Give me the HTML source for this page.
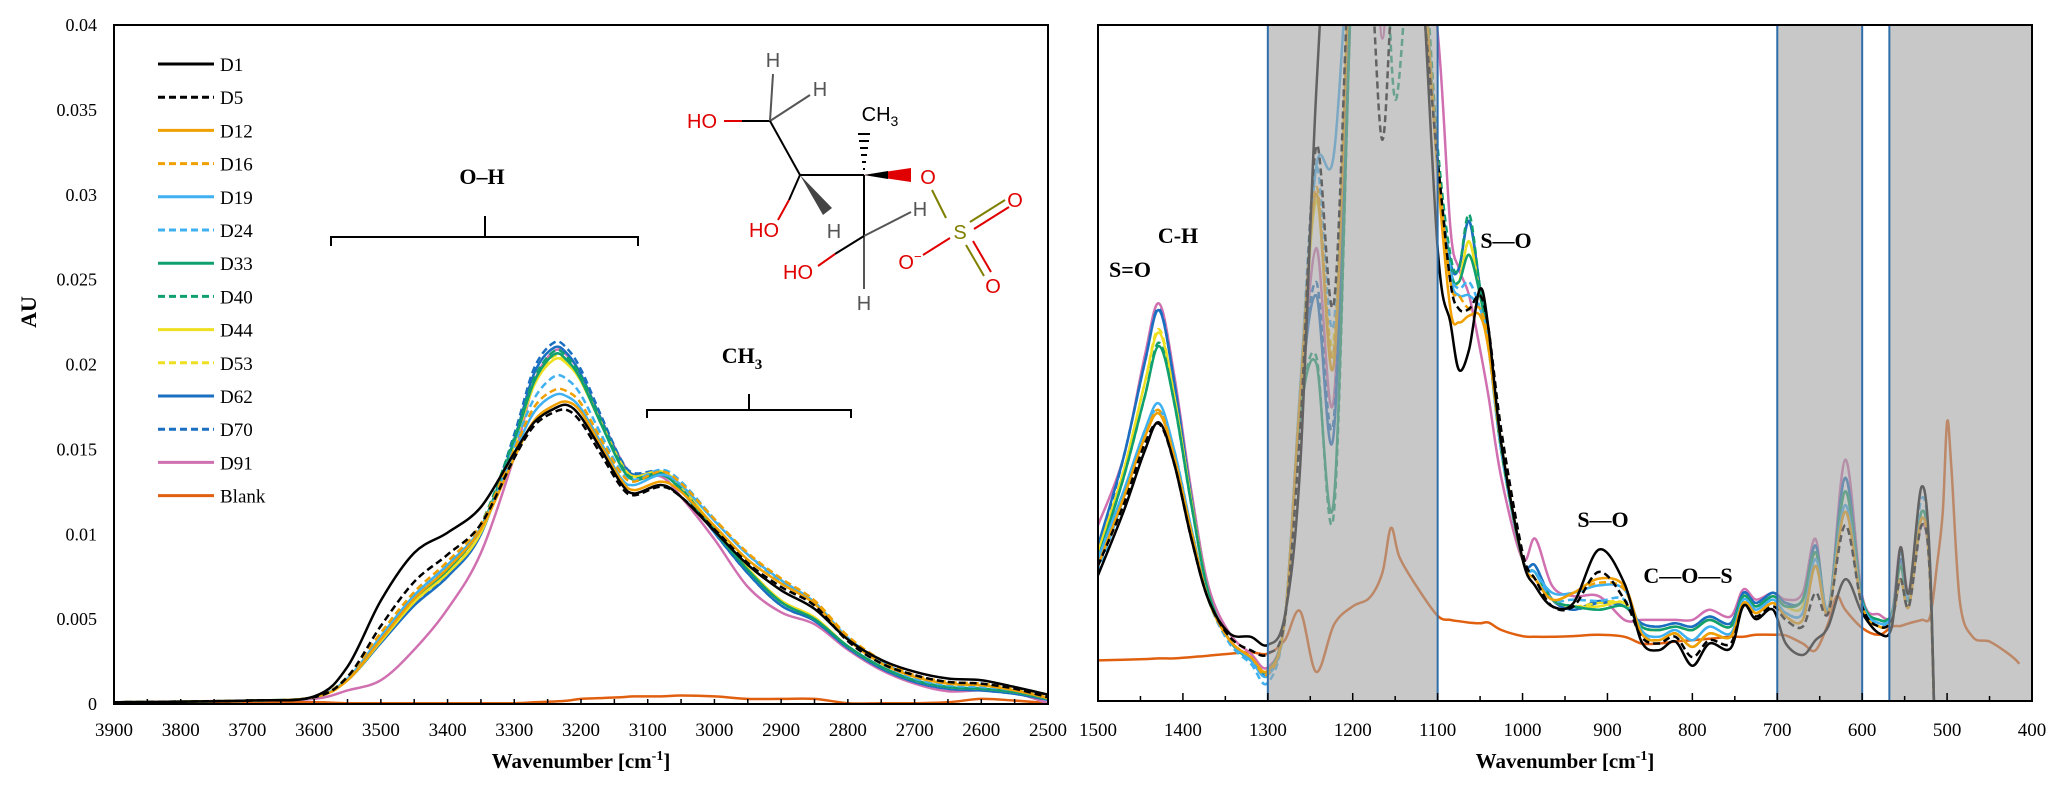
<!DOCTYPE html>
<html><head><meta charset="utf-8"><style>
html,body{margin:0;padding:0;background:#fff;}
svg{display:block;}
text{font-family:"Liberation Serif",serif;}
.mol text{font-family:"Liberation Sans",sans-serif;}
</style></head><body>
<svg id="chart" width="2067" height="800" viewBox="0 0 2067 800" xmlns="http://www.w3.org/2000/svg">
<defs>
<clipPath id="clipL"><rect x="114" y="25" width="934" height="679"/></clipPath>
<clipPath id="clipR"><rect x="1098" y="25" width="934" height="676"/></clipPath>
</defs>
<g id="left-panel"></g>
<g id="right-panel"></g>
<g>
<text x="482" y="184" font-size="22" font-weight="bold" text-anchor="middle">O–H</text>
<path d="M331,246 L331,237 L638,237 L638,246 M485,237 L485,216" fill="none" stroke="#000" stroke-width="2"/>
</g>
<g>
<text x="742" y="363" font-size="22" font-weight="bold" text-anchor="middle">CH<tspan font-size="15" dy="6">3</tspan></text>
<path d="M647,418 L647,410 L851,410 L851,418 M749,410 L749,394" fill="none" stroke="#000" stroke-width="2"/>
</g>
<g class="mol">
<line x1="724" y1="121" x2="742" y2="121" stroke="#e00000" stroke-width="2"/>
<line x1="742" y1="121" x2="770" y2="121" stroke="#000" stroke-width="2"/>
<line x1="770" y1="121" x2="773" y2="74" stroke="#555" stroke-width="2"/>
<line x1="770" y1="121" x2="810" y2="95" stroke="#555" stroke-width="2"/>
<line x1="770" y1="121" x2="800" y2="175" stroke="#000" stroke-width="2"/>
<line x1="800" y1="175" x2="864" y2="175" stroke="#000" stroke-width="2"/>
<line x1="800" y1="175" x2="789" y2="200" stroke="#000" stroke-width="2"/>
<line x1="789" y1="200" x2="778" y2="220" stroke="#e00000" stroke-width="2"/>
<polygon points="800,175 823,215 832,208" fill="#444"/>
<g stroke="#000" stroke-width="2">
<line x1="858" y1="134" x2="870" y2="134"/><line x1="859" y1="141" x2="869" y2="141"/><line x1="860" y1="148" x2="868" y2="148"/><line x1="861" y1="155" x2="867" y2="155"/><line x1="862" y1="162" x2="866" y2="162"/><line x1="863" y1="169" x2="865" y2="169"/>
</g>
<polygon points="864,175 911,168 911,182" fill="#e00000"/>
<polygon points="864,175 888,171 888,179" fill="#000"/>
<line x1="864" y1="175" x2="864" y2="236" stroke="#000" stroke-width="2"/>
<line x1="864" y1="236" x2="864" y2="289" stroke="#555" stroke-width="2"/>
<line x1="864" y1="236" x2="911" y2="212" stroke="#555" stroke-width="2"/>
<line x1="864" y1="236" x2="835" y2="254" stroke="#000" stroke-width="2"/>
<line x1="835" y1="254" x2="818" y2="266" stroke="#e00000" stroke-width="2"/>
<line x1="932" y1="190" x2="946" y2="218" stroke="#808000" stroke-width="2"/>
<line x1="923" y1="255" x2="950" y2="238" stroke="#e00000" stroke-width="2"/>
<line x1="970" y1="222" x2="1005" y2="200" stroke="#808000" stroke-width="2"/>
<line x1="974" y1="229" x2="1009" y2="207" stroke="#e00000" stroke-width="2"/>
<line x1="966" y1="245" x2="984" y2="276" stroke="#808000" stroke-width="2"/>
<line x1="973" y1="241" x2="991" y2="272" stroke="#e00000" stroke-width="2"/>
<text x="773" y="67" font-size="20" fill="#555" text-anchor="middle">H</text>
<text x="820" y="96" font-size="20" fill="#555" text-anchor="middle">H</text>
<text x="702" y="128" font-size="20" fill="#e00000" text-anchor="middle">HO</text>
<text x="880" y="121" font-size="20" fill="#000" text-anchor="middle">CH<tspan font-size="14" dy="5">3</tspan></text>
<text x="928" y="184" font-size="20" fill="#e00000" text-anchor="middle">O</text>
<text x="764" y="237" font-size="20" fill="#e00000" text-anchor="middle">HO</text>
<text x="834" y="238" font-size="20" fill="#555" text-anchor="middle">H</text>
<text x="920" y="216" font-size="20" fill="#555" text-anchor="middle">H</text>
<text x="798" y="279" font-size="20" fill="#e00000" text-anchor="middle">HO</text>
<text x="864" y="310" font-size="20" fill="#555" text-anchor="middle">H</text>
<text x="960" y="239" font-size="20" fill="#808000" text-anchor="middle">S</text>
<text x="910" y="269" font-size="20" fill="#e00000" text-anchor="middle">O<tspan font-size="13" dy="-8">−</tspan></text>
<text x="1015" y="207" font-size="20" fill="#e00000" text-anchor="middle">O</text>
<text x="993" y="293" font-size="20" fill="#e00000" text-anchor="middle">O</text>
</g>
<g>
<text x="1130" y="277" text-anchor="middle" font-weight="bold" font-size="22">S=O</text>
<text x="1178" y="243" text-anchor="middle" font-weight="bold" font-size="22">C-H</text>
<text x="1506" y="248" text-anchor="middle" font-weight="bold" font-size="22">S—O</text>
<text x="1603" y="527" text-anchor="middle" font-weight="bold" font-size="22">S—O</text>
<text x="1688" y="583" text-anchor="middle" font-weight="bold" font-size="22">C—O—S</text>
</g>
</svg>
<script>
const seriesNames = ["D1","D5","D12","D16","D19","D24","D33","D40","D44","D53","D62","D70","D91","Blank"];
const seriesColors = ["#000000","#000000","#f0a000","#f0a000","#3fb0f0","#3fb0f0","#10a070","#10a070","#eee020","#eee020","#1a6fc0","#1a6fc0","#d070b0","#e06010"];
const seriesDashed = [false,true,false,true,false,true,false,true,false,true,false,true,false,false];

const leftTicksX = [3900,3800,3700,3600,3500,3400,3300,3200,3100,3000,2900,2800,2700,2600,2500];
const leftTicksY = [0,5,10,15,20,25,30,35,40];
const leftTickLabelsY = ["0","0.005","0.01","0.015","0.02","0.025","0.03","0.035","0.04"];
const rightTicksX = [1500,1400,1300,1200,1100,1000,900,800,700,600,500,400];
const shadedRanges = [[1300,1100],[700,600],[568,400]];

const wnLeft = [3900,3700,3600,3550,3500,3450,3400,3350,3300,3270,3240,3220,3200,3170,3140,3120,3080,3050,3000,2950,2900,2850,2800,2750,2700,2650,2600,2550,2500];
const d1L  = [0.1,0.2,0.45,2.2,6.1,8.9,10.1,11.6,14.8,16.6,17.4,17.6,16.9,15.0,13.0,12.4,12.9,12.2,10.2,8.2,6.7,5.6,3.8,2.6,1.9,1.5,1.4,1.0,0.55];
const d5L  = [0.1,0.2,0.4,1.6,4.6,7.2,8.8,10.6,14.5,16.4,17.2,17.3,16.6,14.7,12.8,12.3,12.8,12.2,10.3,8.3,6.9,5.8,3.7,2.4,1.7,1.3,1.2,0.9,0.4];
const d12L = [0.1,0.2,0.4,1.4,3.8,6.2,8.0,10.3,14.5,16.7,17.6,17.8,17.2,15.2,13.2,12.6,13.1,12.5,10.5,8.5,7.1,5.9,3.8,2.4,1.6,1.2,1.1,0.8,0.35];
const d16L = [0.1,0.2,0.4,1.6,4.2,6.6,8.4,10.6,15.0,17.5,18.5,18.4,17.7,15.6,13.6,13.1,13.7,13.0,10.9,8.9,7.4,6.1,4.0,2.6,1.7,1.3,1.2,0.9,0.4];
const d19L = [0.1,0.2,0.4,1.5,4.0,6.4,8.2,10.4,14.8,17.2,18.2,18.1,17.4,15.4,13.3,12.9,13.5,12.9,10.8,8.8,7.3,6.0,3.9,2.5,1.6,1.2,1.1,0.8,0.35];
const d24L = [0.1,0.2,0.4,1.5,4.0,6.3,8.1,10.3,15.2,18.0,19.3,19.1,18.2,15.9,13.7,13.2,13.8,13.1,10.9,8.8,7.2,5.9,3.8,2.4,1.5,1.1,1.0,0.8,0.35];
const d33L = [0.1,0.2,0.4,1.5,3.9,6.2,7.9,10.4,15.5,19.0,20.6,20.2,19.1,16.5,14.0,13.2,13.5,12.6,10.2,7.9,6.0,5.0,3.4,2.2,1.4,1.0,0.9,0.7,0.3];
const d40L = [0.1,0.2,0.4,1.6,4.1,6.4,8.2,10.6,15.7,19.2,20.8,20.4,19.3,16.7,14.1,13.3,13.6,12.7,10.3,7.9,6.0,5.0,3.4,2.2,1.4,1.0,0.9,0.7,0.3];
const d44L = [0.1,0.2,0.4,1.4,3.7,6.0,7.7,10.1,15.3,18.8,20.3,20.0,19.0,16.5,14.1,13.4,13.7,12.8,10.4,8.0,6.1,5.1,3.4,2.2,1.4,1.0,0.9,0.7,0.3];
const d53L = [0.1,0.2,0.4,1.4,3.8,6.1,7.8,10.2,15.4,19.0,20.5,20.1,19.1,16.6,14.2,13.4,13.7,12.8,10.4,8.0,6.1,5.1,3.4,2.2,1.4,1.0,0.9,0.7,0.3];
const d62L = [0.1,0.2,0.4,1.4,3.6,5.8,7.5,10.0,15.6,19.5,21.0,20.6,19.4,16.8,14.3,13.5,13.6,12.6,10.1,7.7,5.8,4.9,3.3,2.1,1.3,0.9,0.8,0.6,0.25];
const d70L = [0.1,0.2,0.4,1.5,3.7,5.9,7.6,10.2,15.9,19.8,21.3,20.9,19.7,17.0,14.4,13.6,13.7,12.7,10.1,7.7,5.8,4.9,3.3,2.1,1.3,0.9,0.8,0.6,0.25];
const d91L = [0.1,0.2,0.3,0.8,1.4,3.2,5.6,8.9,14.6,19.0,20.8,20.5,19.4,16.8,14.4,13.4,13.4,12.2,9.7,6.9,5.4,4.7,3.2,2.0,1.2,0.75,0.8,0.65,0.05];
const blankL = [0.1,0.1,0.1,0.05,0.05,0.05,0.05,0.05,0.05,0.1,0.15,0.2,0.3,0.35,0.4,0.45,0.45,0.5,0.45,0.3,0.3,0.3,0.05,0.05,0.05,0.1,0.3,0.2,0.05];
const leftSeries = [d1L,d5L,d12L,d16L,d19L,d24L,d33L,d40L,d44L,d53L,d62L,d70L,d91L,blankL];

const wnRight = [1500,1470,1445,1428,1410,1390,1370,1345,1320,1300,1280,1262,1243,1222,1200,1180,1165,1150,1125,1100,1085,1075,1063,1050,1040,1025,1000,985,965,940,910,880,860,840,820,800,780,755,740,725,705,690,670,655,640,620,600,580,565,555,545,530,520,512];
const d1R  = [18.6,28,37,41.2,35,24,15,10,9.5,8.3,12.6,34.5,90,130,130,130,130,130,120,67,56,49,52,61,55,38,21,17,14,14.5,22.4,17.4,8.8,7.5,8.8,5.2,8.5,7.8,14.1,12.1,13.5,8.5,6.8,9,11,18,13,10,11,22.7,16,31.7,20,-20];
const d5R  = [20,29,38,41,35,24,15,9.5,7.5,7,12,40,82,59,120,110,83,110,110,80,62,58,58,60,55,40,22,18,14,14,19.1,15,9.5,8.5,9.5,6.5,9,8.5,14,12.5,14,12,11,16,13,26,14,11,12,18,14,26,18,-20];
const d12R = [20,30,39,42.5,36,25,15,9,6.5,4.5,12,45,75,50,120,130,130,130,120,78,58,56,57,57,52,38,21,18,15,16,18.1,17,10,9,10,8,10,9.5,14.5,13,14.5,12.5,12,20,13,28,14,11,12,18,14,27,18,-20];
const d16R = [20,30,39,43,36,25,15,9,6.5,4,12,45,76,52,120,130,130,130,120,80,62,60,58,58,53,38,21,18,15,16,17.5,16.5,10,9,10,8,10,9.5,14.5,13,14.5,12.5,12,20,13,28,14,11,12,18,14,27,18,-20];
const d19R = [21,31,40,44,37,25.5,15,9,6,3.8,12,46,79,81,120,130,130,130,120,80,63,60,60,58,53,38,21,19,16,16,17.1,16.5,10.5,9.5,10.5,9,11,10,15,13.5,15,13,13,21,13.5,29,14.5,11.5,12.5,18,14,27,18,-20];
const d24R = [19,30,40,43,37,25.5,15,8.5,5.5,2.7,12,46,79,56,120,130,130,130,120,80,64,61,62,58,52,37,21,19,15,15,14.8,15,10,9,10,8,10,9.5,14.5,13,14.5,13,13,21,13.5,29,14.5,11.5,12.5,22,15,30,20,-20];
const d33R = [21,33,45,52.5,44,29,16,9,6,4.5,12,42,50,30,110,130,130,130,120,80,64,62,66,60,53,37,21,19,15,14,13.5,14,11,10.5,11,10.5,12,11,15.5,14,15.5,14,15,22,13.5,31,15,12,13,20,15,28,19,-20];
const d40R = [21,33,45,53,44,29,16,9,6,4.5,12,42,51,28,110,130,130,89,120,82,66,64,72,61,53,37,21,19,15,14,13.5,14,11,10.5,11,10.5,12,11,15.5,14,15.5,14,15,22,13.5,31,15,12,13,20,15,28,19,-20];
const d44R = [22,34,47,54.5,45,29.5,16,9,6,4.5,12,44,74,52,120,130,130,130,120,80,64,62,68,60,53,37,21,19,15,14,14,14.5,11,10.5,11,10.5,12,11,15.5,14,15.5,14,14,22,13,31,15,12,13,20,15,28,19,-20];
const d53R = [22,34,47,55,45,29.5,16,9,6,4.5,12,44,74,54,120,130,130,130,120,80,64,62,68,60,53,37,21,19,15,14,14.5,14.5,11,10.5,11,10.5,12,11,15.5,14,15.5,14,14,22,13,31,15,12,13,20,15,28,19,-20];
const d62R = [23,36,50,57.8,47,30,16,9,6,4.5,12,44,60,40,120,130,130,130,120,80,65,64,71,61,53,37,21,20,15,13.5,14.8,14,11.5,11,11.5,11,12.5,11.5,16,14.5,16,14.5,15,23,13.5,33,15,12,13,21,15,28,19,-20];
const d70R = [22,36,50,58,47,30,16,9,6,4,12,44,62,42,120,130,130,130,120,80,65,64,71,61,53,37,21,20,15,13.5,14.5,14,11.5,11,11.5,11,12.5,11.5,16,14.5,16,14.5,15,23,13.5,33,15,12,13,21,15,28,19,-20];
const d91R = [26,36,51,58.8,48,31,17,10,7,5,12,42,67,45,120,130,98,130,120,99,70,64,60,52,45,33,21,24,17,15.5,15.5,12,12,12,12,12,13.5,12.5,16.5,15,16,15,16,24,12.8,35.7,15.5,12.8,13,22.7,16.1,26,18,-20];
const wnBlankRight = [1500,1470,1445,1428,1410,1390,1370,1345,1320,1300,1280,1262,1243,1222,1200,1180,1165,1155,1145,1125,1100,1085,1075,1063,1050,1040,1025,1000,985,965,940,910,880,860,840,820,800,780,755,740,725,705,690,670,655,640,630,620,600,580,565,555,545,530,520,512,505,500,495,485,470,450,430,420,415];
const blankR = [6,6.1,6.2,6.3,6.3,6.5,6.7,7,7.2,7,9,13.3,4.3,11.3,14,15.3,19,25.6,21.3,17,12.6,12,11.8,11.6,11.5,11.6,10.5,9.6,9.5,9.5,9.6,9.8,9.5,8.5,8.5,8.8,9.0,9.2,9.5,9.5,9.8,9.8,9.7,8.5,7.5,11.5,15.5,13.5,10.8,9.8,11,11.1,11.5,12,12.5,20,28,41.3,34.7,14.8,9.5,8.8,7.2,6.2,5.5];
const rightSeries = [d1R,d5R,d12R,d16R,d19R,d24R,d33R,d40R,d44R,d53R,d62R,d70R,d91R,blankR];

const NS = "http://www.w3.org/2000/svg";
const L = {x0:114,x1:1048,y0:704,y1:25,wmax:3900,wmin:2500,vmax:40};
const R = {x0:1098,x1:2032,y0:701,y1:25,wmax:1500,wmin:400,vmax:100};
function xL(w){return L.x0+(L.wmax-w)/(L.wmax-L.wmin)*(L.x1-L.x0);}
function yL(v){return L.y0-v/L.vmax*(L.y0-L.y1);}
function xR(w){return R.x0+(R.wmax-w)/(R.wmax-R.wmin)*(R.x1-R.x0);}
function yR(v){return R.y0-v/R.vmax*(R.y0-R.y1);}

function mk(tag,attrs,parent){const e=document.createElementNS(NS,tag);for(const k in attrs)e.setAttribute(k,attrs[k]);parent.appendChild(e);return e;}
function smoothPath(pts){
  let d="M"+pts[0][0].toFixed(1)+","+pts[0][1].toFixed(1);
  for(let i=0;i<pts.length-1;i++){
    const p0=pts[Math.max(0,i-1)],p1=pts[i],p2=pts[i+1],p3=pts[Math.min(pts.length-1,i+2)];
    const c1x=p1[0]+(p2[0]-p0[0])/6,c1y=p1[1]+(p2[1]-p0[1])/6;
    const c2x=p2[0]-(p3[0]-p1[0])/6,c2y=p2[1]-(p3[1]-p1[1])/6;
    d+=" C"+c1x.toFixed(1)+","+c1y.toFixed(1)+" "+c2x.toFixed(1)+","+c2y.toFixed(1)+" "+p2[0].toFixed(1)+","+p2[1].toFixed(1);
  }
  return d;
}

const lp=document.getElementById("left-panel");
const lLines=mk("g",{"clip-path":"url(#clipL)"},lp);


for(let s=leftSeries.length-1;s>=0;s--){
  const vals=leftSeries[s];
  const pts=wnLeft.map((w,i)=>[xL(w),yL(vals[i])]);
  const p=mk("path",{d:smoothPath(pts),fill:"none",stroke:seriesColors[s],"stroke-width":"2.5","stroke-dasharray":seriesDashed[s]?"7,4":"none"},lLines);
  
  
}
const lf=mk("rect",{x:L.x0,y:L.y1,width:L.x1-L.x0,height:L.y0-L.y1,fill:"none",stroke:"#000","stroke-width":"2"},lp);


leftTicksY.forEach((v,i)=>{
  const t=mk("text",{x:97,y:yL(v)+6,"font-size":"18","text-anchor":"end"},lp);
  t.textContent=leftTickLabelsY[i];
  
  
});
for(let w=L.wmax;w>=L.wmin;w-=50){
  const tk=mk("line",{x1:xL(w),x2:xL(w),y1:L.y0,y2:L.y0-5,stroke:"#000","stroke-width":"1.5"},lp);
  
  
}
leftTicksX.forEach(w=>{
  const t=mk("text",{x:xL(w),y:736,"font-size":"19","text-anchor":"middle"},lp);
  t.textContent=String(w);
  
  
});
const yt=mk("text",{x:0,y:0,"font-size":"22","font-weight":"bold","text-anchor":"middle",transform:"translate(36,312) rotate(-90)"},lp);
yt.textContent="AU";


const xt=mk("text",{x:(L.x0+L.x1)/2,y:768,"font-size":"21","font-weight":"bold","text-anchor":"middle"},lp);
xt.innerHTML='Wavenumber [cm<tspan font-size="14" dy="-8">-1</tspan><tspan dy="8">]</tspan>';


const lg=mk("g",{},lp);


seriesNames.forEach((n,i)=>{
  const y=64+i*33.2;
  const g=mk("g",{},lg);
  
  
  mk("line",{x1:158,x2:214,y1:y,y2:y,stroke:seriesColors[i],"stroke-width":"3","stroke-dasharray":seriesDashed[i]?"7,4":"none"},g);
  const t=mk("text",{x:220,y:y+7,"font-size":"19"},g);
  t.textContent=n;
});

const rp=document.getElementById("right-panel");
const rLines=mk("g",{"clip-path":"url(#clipR)"},rp);


for(let s=rightSeries.length-1;s>=0;s--){
  const vals=rightSeries[s];
  const wn = s===rightSeries.length-1 ? wnBlankRight : wnRight;
  const pts=wn.map((w,i)=>[xR(w),yR(vals[i])]);
  const p=mk("path",{d:smoothPath(pts),fill:"none",stroke:seriesColors[s],"stroke-width":"2.5","stroke-dasharray":seriesDashed[s]?"7,4":"none"},rLines);
  
  
}
shadedRanges.forEach(r=>{
  const a=xR(r[0]),b=xR(r[1]);
  const rc=mk("rect",{x:a,y:R.y1,width:b-a,height:R.y0-R.y1,fill:"#a4a4a4","fill-opacity":"0.6",stroke:"#2f6eaa","stroke-width":"2"},rp);
  
  
});
const rf=mk("rect",{x:R.x0,y:R.y1,width:R.x1-R.x0,height:R.y0-R.y1,fill:"none",stroke:"#000","stroke-width":"2"},rp);


for(let w=R.wmax;w>=R.wmin;w-=50){
  const tk=mk("line",{x1:xR(w),x2:xR(w),y1:R.y0,y2:R.y0-(w%100===0?8:5),stroke:"#000","stroke-width":"1.5"},rp);
  
  
}
rightTicksX.forEach(w=>{
  const t=mk("text",{x:xR(w),y:736,"font-size":"19","text-anchor":"middle"},rp);
  t.textContent=String(w);
  
  
});
const xt2=mk("text",{x:(R.x0+R.x1)/2,y:768,"font-size":"21","font-weight":"bold","text-anchor":"middle"},rp);
xt2.innerHTML='Wavenumber [cm<tspan font-size="14" dy="-8">-1</tspan><tspan dy="8">]</tspan>';


</script>
</body></html>
